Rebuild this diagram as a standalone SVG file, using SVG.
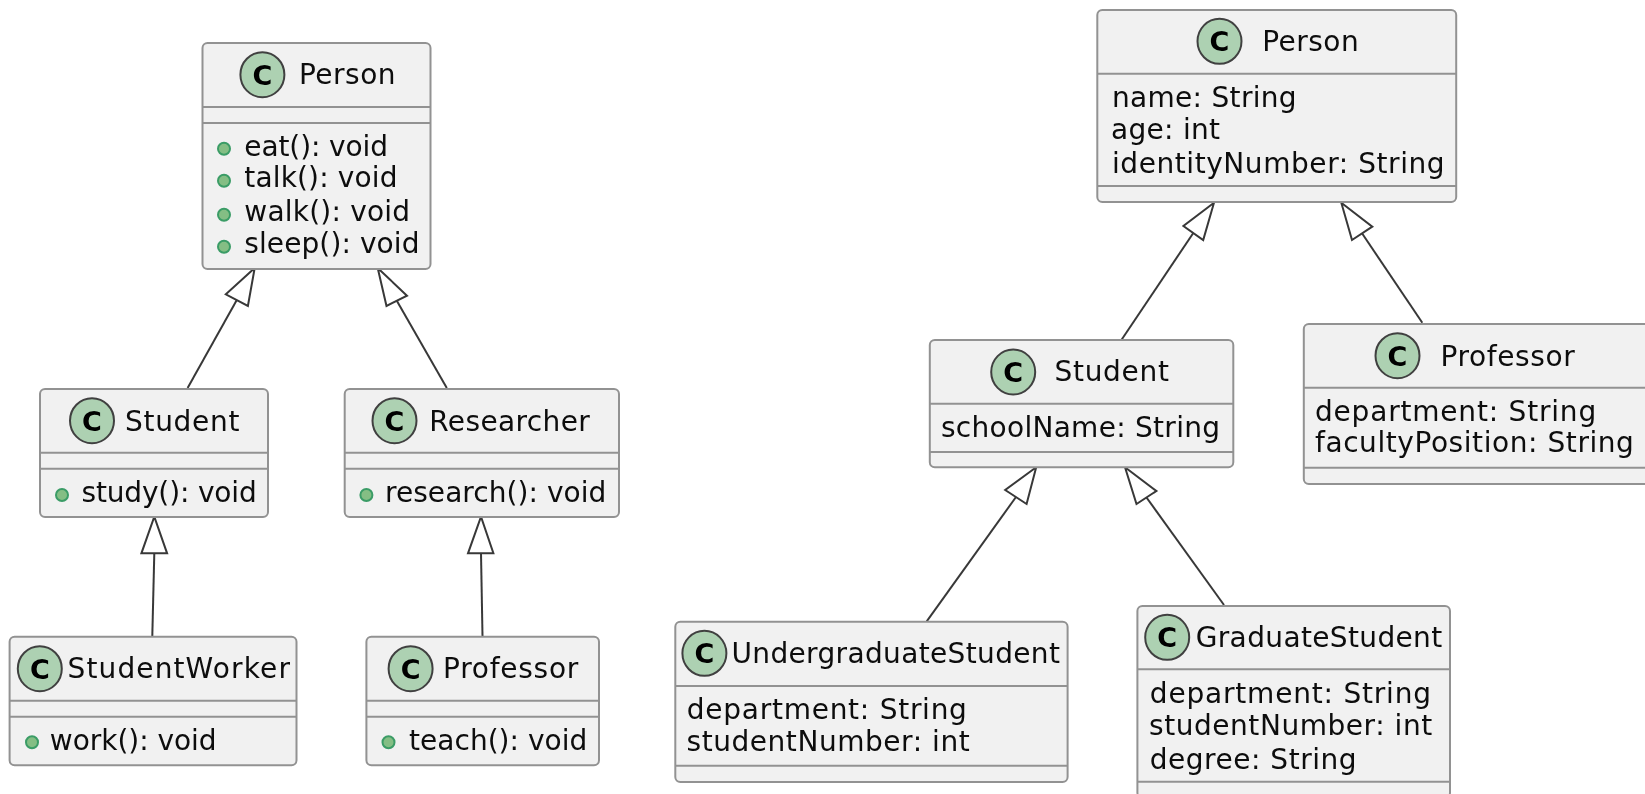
<svg xmlns="http://www.w3.org/2000/svg" width="1645" height="794" viewBox="0 0 1645 794">
<defs>
<filter id="soft" x="0" y="0" width="1645" height="794" filterUnits="userSpaceOnUse"><feGaussianBlur stdDeviation="0.45"/></filter>
</defs>
<style>
text{font-family:"DejaVu Sans","Liberation Sans",sans-serif;font-size:28px;fill:#0c0c0c;transform:translateY(.6px)}
.box{fill:#F1F1F1;stroke:#929292;stroke-width:2}
.div{stroke:#929292;stroke-width:2;fill:none}
.spot{fill:#ADD1B2;stroke:#404040;stroke-width:2}
.c{font-family:"DejaVu Sans",sans-serif;font-weight:700;font-size:27px;text-anchor:middle;fill:#000}
.dot{fill:#84BE84;stroke:#3a9c66;stroke-width:2}
.edge{stroke:#383838;stroke-width:2;fill:none}
.head{stroke:#383838;stroke-width:2;fill:#fff}
</style>
<rect width="1645" height="794" fill="#fff"/>
<g filter="url(#soft)">
<g id="connectors">
<path class="edge" d="M187.6 388L236.8 300"/><polygon class="head" points="254.7,268 225.8,294.3 247.9,306"/>
<path class="edge" d="M446.8 388L396.8 300.8"/><polygon class="head" points="377.7,268 407,295.7 386.5,306"/>
<path class="edge" d="M152.3 636L154.3 553.3"/><polygon class="head" points="154.3,516.7 141.4,553.3 167.1,553.3"/>
<path class="edge" d="M482.5 636L481 553.3"/><polygon class="head" points="481,516.7 468,553.3 493.4,553.3"/>
<path class="edge" d="M1121.4 340L1193.3 233"/><polygon class="head" points="1214,202.7 1183.4,226 1203.2,240"/>
<path class="edge" d="M1422.3 322.7L1362 233.3"/><polygon class="head" points="1341.3,202.7 1372.3,226.7 1352,240"/>
<path class="edge" d="M926.7 621.3L1016 497"/><polygon class="head" points="1036.2,467.3 1005.2,490 1026.6,504"/>
<path class="edge" d="M1224 605L1146.5 497.5"/><polygon class="head" points="1125,467.3 1156.4,491 1136.5,504"/>
</g>
<g id="left-person">
<rect class="box" x="202.5" y="43" width="228" height="226" rx="5"/>
<path class="div" d="M202.5 107H430.5M202.5 123H430.5"/>
<ellipse class="spot" cx="262.4" cy="74.7" rx="22" ry="22.5"/><text class="c" x="262.4" y="84.3">C</text>
<text x="299" y="83.3" textLength="96.5">Person</text>
<circle class="dot" cx="224" cy="148.7" r="6"/><text x="244.3" y="155" textLength="143.7">eat(): void</text>
<circle class="dot" cx="224" cy="180.7" r="6"/><text x="244.3" y="186.7" textLength="153.2">talk(): void</text>
<circle class="dot" cx="224" cy="214.7" r="6"/><text x="244.3" y="220.5" textLength="165.8">walk(): void</text>
<circle class="dot" cx="224" cy="246.7" r="6"/><text x="244.3" y="252.7" textLength="175.2">sleep(): void</text>
</g>
<g id="left-student">
<rect class="box" x="40" y="389" width="228" height="128" rx="5"/>
<path class="div" d="M40 452.7H268M40 468.7H268"/>
<ellipse class="spot" cx="92" cy="420.7" rx="22" ry="22.5"/><text class="c" x="92" y="430.3">C</text>
<text x="125" y="430" textLength="114.4">Student</text>
<circle class="dot" cx="62" cy="495" r="6"/><text x="81.5" y="501.7" textLength="175.2">study(): void</text>
</g>
<g id="left-researcher">
<rect class="box" x="344.7" y="389" width="274.3" height="128" rx="5"/>
<path class="div" d="M344.7 452.7H619M344.7 468.7H619"/>
<ellipse class="spot" cx="394.5" cy="420.7" rx="22" ry="22.5"/><text class="c" x="394.5" y="430.3">C</text>
<text x="429.3" y="430" textLength="160.5">Researcher</text>
<circle class="dot" cx="366.4" cy="495" r="6"/><text x="385" y="501.7" textLength="221.4">research(): void</text>
</g>
<g id="left-studentworker">
<rect class="box" x="9.6" y="636.7" width="286.9" height="128.6" rx="5"/>
<path class="div" d="M9.6 700.7H296.5M9.6 716.7H296.5"/>
<ellipse class="spot" cx="39.8" cy="668.7" rx="22" ry="22.5"/><text class="c" x="39.8" y="678.3">C</text>
<text x="67.5" y="677.3" textLength="222.4">StudentWorker</text>
<circle class="dot" cx="32" cy="742.3" r="6"/><text x="49.8" y="749.3" textLength="166.8">work(): void</text>
</g>
<g id="left-professor">
<rect class="box" x="366.4" y="636.7" width="232.6" height="128.6" rx="5"/>
<path class="div" d="M366.4 700.7H599M366.4 716.7H599"/>
<ellipse class="spot" cx="410.6" cy="668.7" rx="22" ry="22.5"/><text class="c" x="410.6" y="678.3">C</text>
<text x="443" y="677.3" textLength="135.3">Professor</text>
<circle class="dot" cx="388.5" cy="742.3" r="6"/><text x="409" y="749.3" textLength="178.3">teach(): void</text>
</g>
<g id="right-person">
<rect class="box" x="1097.3" y="10" width="358.9" height="192" rx="5"/>
<path class="div" d="M1097.3 73.7H1456.2M1097.3 186H1456.2"/>
<ellipse class="spot" cx="1219.5" cy="41.3" rx="22" ry="22.5"/><text class="c" x="1219.5" y="50.9">C</text>
<text x="1262.2" y="50.7" textLength="96.5">Person</text>
<text x="1112" y="106.7" textLength="184.6">name: String</text>
<text x="1111" y="138.3" textLength="109.1">age: int</text>
<text x="1112" y="172.3" textLength="332.6">identityNumber: String</text>
</g>
<g id="right-professor">
<rect class="box" x="1303.8" y="324" width="360" height="160" rx="5"/>
<path class="div" d="M1303.8 387.7H1663.8M1303.8 467.7H1663.8"/>
<ellipse class="spot" cx="1397.5" cy="355.7" rx="22" ry="22.5"/><text class="c" x="1397.5" y="365.3">C</text>
<text x="1440.5" y="365" textLength="134.3">Professor</text>
<text x="1315" y="420.7" textLength="281.2">department: String</text>
<text x="1315" y="451.7" textLength="318.9">facultyPosition: String</text>
</g>
<g id="right-student">
<rect class="box" x="929.8" y="340" width="303.5" height="127.3" rx="5"/>
<path class="div" d="M929.8 403.7H1233.3M929.8 452H1233.3"/>
<ellipse class="spot" cx="1013.2" cy="372" rx="22" ry="22.5"/><text class="c" x="1013.2" y="381.6">C</text>
<text x="1054.5" y="380.7" textLength="114.4">Student</text>
<text x="941" y="436.7" textLength="279">schoolName: String</text>
</g>
<g id="right-undergraduate">
<rect class="box" x="675.3" y="621.7" width="392.3" height="160.3" rx="5"/>
<path class="div" d="M675.3 686H1067.6M675.3 765.7H1067.6"/>
<ellipse class="spot" cx="704.4" cy="653.3" rx="22" ry="22.5"/><text class="c" x="704.4" y="662.9">C</text>
<text x="731.5" y="662.3" textLength="328.4">UndergraduateStudent</text>
<text x="686.8" y="718.3" textLength="280.1">department: String</text>
<text x="686.5" y="750.7" textLength="283.2">studentNumber: int</text>
</g>
<g id="right-graduate">
<rect class="box" x="1137.4" y="606" width="312.6" height="192" rx="5"/>
<path class="div" d="M1137.4 669.3H1450M1137.4 781.7H1450"/>
<ellipse class="spot" cx="1167.2" cy="637.3" rx="22" ry="22.5"/><text class="c" x="1167.2" y="646.9">C</text>
<text x="1195.7" y="646.7" textLength="246.5">GraduateStudent</text>
<text x="1149.8" y="702.3" textLength="281.2">department: String</text>
<text x="1149" y="734.3" textLength="283.2">studentNumber: int</text>
<text x="1149.8" y="768.3" textLength="206.7">degree: String</text>
</g>
</g>
</svg>
